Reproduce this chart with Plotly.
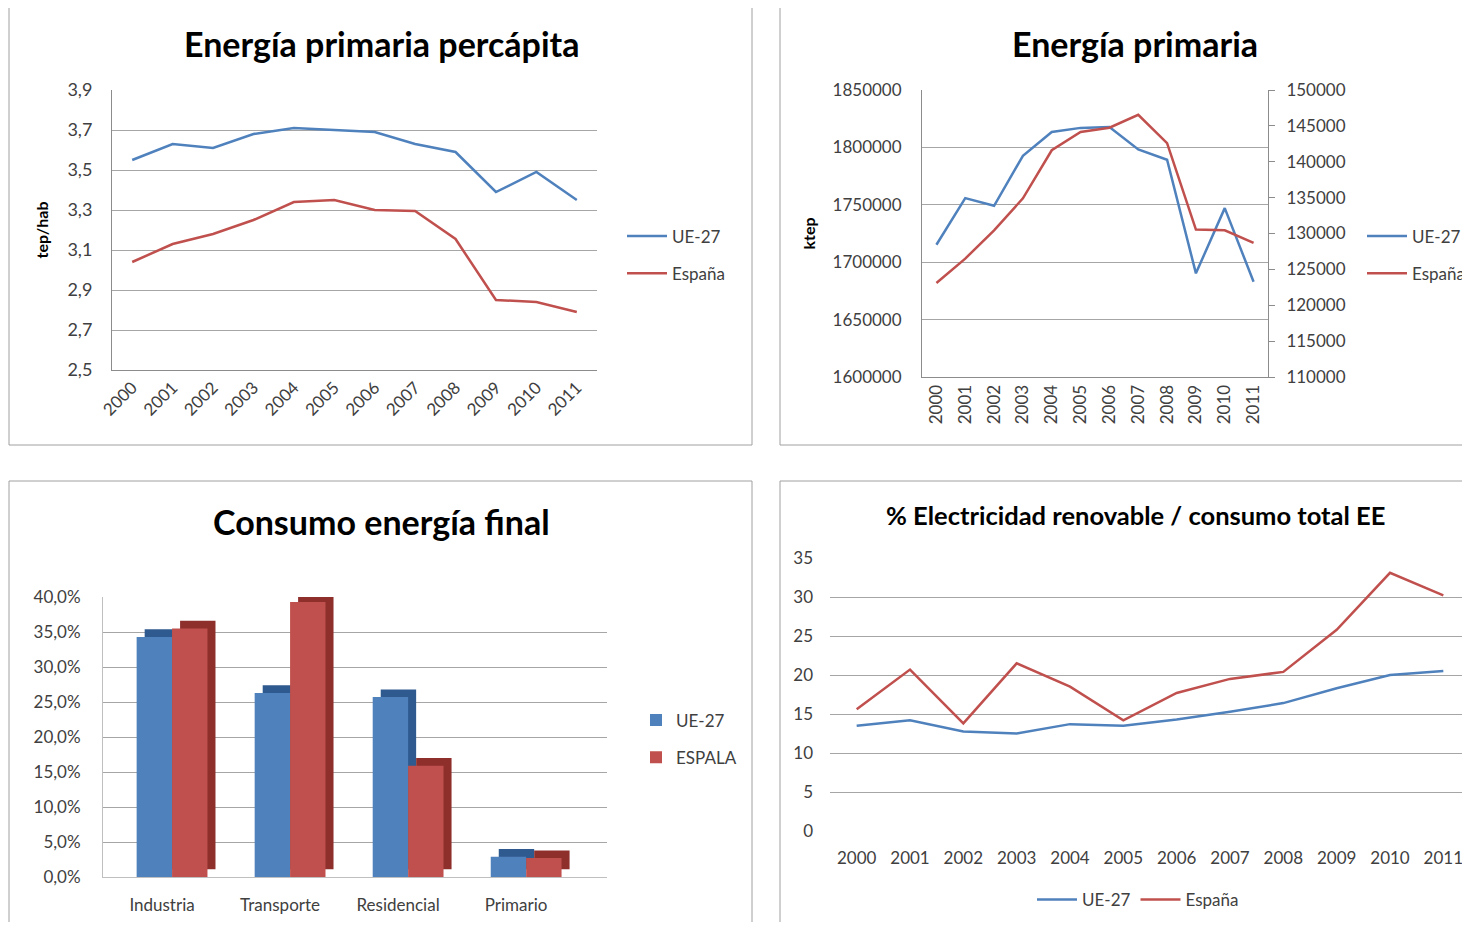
import plotly.graph_objects as go

# page body keeps an 8px margin, so the figure is made smaller and all
# layout positions below are given in screen pixels minus that offset
OFF = 8
W, H = 1470 - OFF, 930 - 2 * OFF
BLUE = "#4F81BD"
RED = "#C0504D"
BLUE_DARK = "#2F5A8F"
RED_DARK = "#8E2F2C"
GRID = "#A6A6A6"
FONT = "Lato, 'Open Sans', sans-serif"
TXT = "#404040"

years = [str(y) for y in range(2000, 2012)]

# Energía primaria percápita (tep/hab)
pc_ue = [3.55, 3.63, 3.61, 3.68, 3.71, 3.70, 3.69, 3.63, 3.59, 3.39, 3.49, 3.35]
pc_es = [3.04, 3.13, 3.18, 3.25, 3.34, 3.35, 3.30, 3.295, 3.155, 2.85, 2.84, 2.79]
pc_ticks = [2.5, 2.7, 2.9, 3.1, 3.3, 3.5, 3.7, 3.9]
pc_ticktext = ["2,5", "2,7", "2,9", "3,1", "3,3", "3,5", "3,7", "3,9"]

# Energía primaria (ktep)
ep_ue = [1715200, 1755800, 1749100, 1792700, 1813400, 1817000, 1817800, 1798200,
         1789200, 1690300, 1747100, 1683000]
ep_es = [123100, 126500, 130450, 134900, 141600, 144150, 144750, 146550, 142600,
         130550, 130450, 128700]
ep_left_ticks = [1600000, 1650000, 1700000, 1750000, 1800000, 1850000]
ep_right_ticks = [110000, 115000, 120000, 125000, 130000, 135000, 140000, 145000, 150000]

# Consumo energía final (%)
sectores = ["Industria", "Transporte", "Residencial", "Primario"]
cf_ue = [34.3, 26.3, 25.7, 2.9]
cf_es = [35.5, 39.3, 15.9, 2.7]
cf_ticks = [0, 5, 10, 15, 20, 25, 30, 35, 40]
cf_ticktext = ["0,0%", "5,0%", "10,0%", "15,0%", "20,0%", "25,0%", "30,0%", "35,0%", "40,0%"]

# % Electricidad renovable / consumo total EE
er_ue = [13.5, 14.2, 12.75, 12.5, 13.7, 13.5, 14.3, 15.3, 16.4, 18.3, 20.0, 20.5]
er_es = [15.6, 20.7, 13.8, 21.5, 18.5, 14.2, 17.7, 19.5, 20.4, 25.8, 33.1, 30.2]


def px_x(x):
    return (x - OFF) / W


def px_y(y):
    return 1 - (y - OFF) / H


fig = go.Figure()

# --- top left
fig.add_trace(go.Scatter(x=years, y=pc_ue, name="UE-27", mode="lines",
                         line=dict(color=BLUE, width=2.5), xaxis="x", yaxis="y",
                         legend="legend", legendgroup="a"))
fig.add_trace(go.Scatter(x=years, y=pc_es, name="España", mode="lines",
                         line=dict(color=RED, width=2.5), xaxis="x", yaxis="y",
                         legend="legend", legendgroup="b"))

# --- top right
fig.add_trace(go.Scatter(x=years, y=ep_ue, name="UE-27", mode="lines",
                         line=dict(color=BLUE, width=2.5), xaxis="x2", yaxis="y2",
                         legend="legend2", legendgroup="c"))
fig.add_trace(go.Scatter(x=years, y=ep_es, name="España", mode="lines",
                         line=dict(color=RED, width=2.5), xaxis="x2", yaxis="y3",
                         legend="legend2", legendgroup="d"))

# --- bottom left: pseudo 3d columns (dark depth copy behind the front face)
bw = 0.3
fig.add_trace(go.Bar(x=sectores, y=cf_ue, base=1.1, width=bw, offset=-0.215 + 0.068,
                     marker=dict(color=BLUE_DARK, line=dict(width=0)),
                     xaxis="x3", yaxis="y4", showlegend=False, hoverinfo="skip"))
fig.add_trace(go.Bar(x=sectores, y=cf_ue, name="UE-27", width=bw, offset=-0.215,
                     marker=dict(color=BLUE, line=dict(width=0)),
                     xaxis="x3", yaxis="y4", legend="legend3", legendgroup="e"))
fig.add_trace(go.Bar(x=sectores, y=cf_es, base=1.1, width=bw, offset=0.085 + 0.068,
                     marker=dict(color=RED_DARK, line=dict(width=0)),
                     xaxis="x3", yaxis="y4", showlegend=False, hoverinfo="skip"))
fig.add_trace(go.Bar(x=sectores, y=cf_es, name="ESPALA", width=bw, offset=0.085,
                     marker=dict(color=RED, line=dict(width=0)),
                     xaxis="x3", yaxis="y4", legend="legend3", legendgroup="f"))

# --- bottom right
fig.add_trace(go.Scatter(x=years, y=er_ue, name="UE-27", mode="lines",
                         line=dict(color=BLUE, width=2.5), xaxis="x4", yaxis="y5",
                         legend="legend4"))
fig.add_trace(go.Scatter(x=years, y=er_es, name="España", mode="lines",
                         line=dict(color=RED, width=2.5), xaxis="x4", yaxis="y5",
                         legend="legend4"))

tick_font = dict(family=FONT, size=17, color=TXT)
leg_font = dict(family=FONT, size=17, color=TXT)

fig.update_layout(
    width=W, height=H, autosize=False,
    margin=dict(l=0, r=0, t=0, b=0, autoexpand=False),
    paper_bgcolor="white", plot_bgcolor="white",
    font=dict(family=FONT, color=TXT),
    barmode="overlay",
    xaxis=dict(domain=[px_x(112), px_x(597)], anchor="y", type="category",
               range=[-0.5, 11.5], tickangle=-45, tickfont=tick_font, automargin=False,
               showline=True, linecolor="#8C8C8C", showgrid=False, ticks=""),
    yaxis=dict(domain=[px_y(370), px_y(90)], anchor="x", range=[2.5, 3.9],
               tickvals=pc_ticks, ticktext=pc_ticktext,
               tickfont=dict(family=FONT, size=18, color=TXT),
               showgrid=True, gridcolor=GRID, gridwidth=1.3, zeroline=False,
               showline=True, linecolor="#8C8C8C", ticklabelstandoff=15, automargin=False,
               title=dict(text="<b>tep/hab</b>", font=dict(family=FONT, size=16, color="#000"),
                          standoff=14)),
    xaxis2=dict(domain=[px_x(922), px_x(1268)], anchor="y2", type="category",
                range=[-0.5, 11.5], tickangle=-90, tickfont=tick_font, automargin=False,
                showline=True, linecolor="#8C8C8C", showgrid=False, ticks=""),
    yaxis2=dict(domain=[px_y(377), px_y(90)], anchor="x2", range=[1600000, 1850000],
                tickvals=ep_left_ticks, ticktext=[str(v) for v in ep_left_ticks],
                tickfont=tick_font, showgrid=True, gridcolor=GRID, gridwidth=1.3,
                zeroline=False, showline=True, linecolor="#8C8C8C", ticklabelstandoff=16,
                automargin=False,
                title=dict(text="<b>ktep</b>", font=dict(family=FONT, size=16, color="#000"),
                           standoff=12)),
    yaxis3=dict(anchor="x2", overlaying="y2", side="right", range=[110000, 150000],
                tickvals=ep_right_ticks, ticktext=[str(v) for v in ep_right_ticks],
                tickfont=tick_font, showgrid=False, zeroline=False, showline=True,
                linecolor="#8C8C8C", ticks="outside", ticklen=6, tickcolor="#8C8C8C",
                ticklabelstandoff=8, automargin=False),
    xaxis3=dict(domain=[px_x(103), px_x(607)], anchor="y4", type="category",
                range=[-0.5, 3.77], tickfont=tick_font, ticklabelstandoff=13, automargin=False,
                showline=True, linecolor="#BFBFBF", showgrid=False, ticks=""),
    yaxis4=dict(domain=[px_y(877), px_y(597)], anchor="x3", range=[0, 40],
                tickvals=cf_ticks, ticktext=cf_ticktext, tickfont=tick_font,
                showgrid=True, gridcolor=GRID, gridwidth=1.3, zeroline=False,
                showline=True, linecolor="#BFBFBF", ticklabelstandoff=18, automargin=False),
    xaxis4=dict(domain=[px_x(830), 1.0], anchor="y5", type="category",
                range=[-0.5, 11.5], tickfont=tick_font, ticklabelstandoff=15,
                showline=False, showgrid=False, ticks="", automargin=False),
    yaxis5=dict(domain=[px_y(831), px_y(558)], anchor="x4", range=[0, 35],
                dtick=5, tickfont=tick_font, showgrid=True, gridcolor=GRID, gridwidth=1.3,
                zeroline=False, showline=False, ticklabelstandoff=16, automargin=False),
    legend=dict(x=px_x(622), y=px_y(255), xanchor="left", yanchor="middle",
                font=leg_font, traceorder="grouped", itemwidth=40,
                tracegroupgap=12, bgcolor="rgba(0,0,0,0)"),
    legend2=dict(x=px_x(1362), y=px_y(255), xanchor="left", yanchor="middle",
                 font=leg_font, traceorder="grouped", itemwidth=40,
                 tracegroupgap=12, bgcolor="rgba(0,0,0,0)"),
    legend3=dict(x=px_x(636), y=px_y(739), xanchor="left", yanchor="middle",
                 font=leg_font, traceorder="grouped",
                 tracegroupgap=12, bgcolor="rgba(0,0,0,0)", itemwidth=30),
    legend4=dict(x=px_x(1138), y=px_y(900), xanchor="center", yanchor="middle",
                 orientation="h", font=leg_font, itemwidth=40, bgcolor="rgba(0,0,0,0)"),
    showlegend=True,
)

titles = [
    ("<b>Energía primaria percápita</b>", 381, 44, 34),
    ("<b>Energía primaria</b>", 1135, 44, 34),
    ("<b>Consumo energía final</b>", 381, 521, 34),
    ("<b>% Electricidad renovable / consumo total EE</b>", 1135, 515, 25.5),
]
for text, cx, cy, size in titles:
    fig.add_annotation(text=text, x=px_x(cx), y=px_y(cy), xref="paper", yref="paper",
                       xanchor="center", yanchor="middle", showarrow=False,
                       font=dict(family=FONT, size=size, color="#000"))

# panel frames
for x0, y0, x1, y1 in [(9, 6, 752, 445), (780, 6, 1490, 445),
                       (9, 481, 752, 950), (780, 481, 1490, 950)]:
    fig.add_shape(type="rect", xref="paper", yref="paper",
                  x0=px_x(x0), y0=px_y(y1), x1=px_x(x1), y1=px_y(y0),
                  line=dict(color="#A0A0A0", width=1), layer="below")

fig.write_html("out.html")
